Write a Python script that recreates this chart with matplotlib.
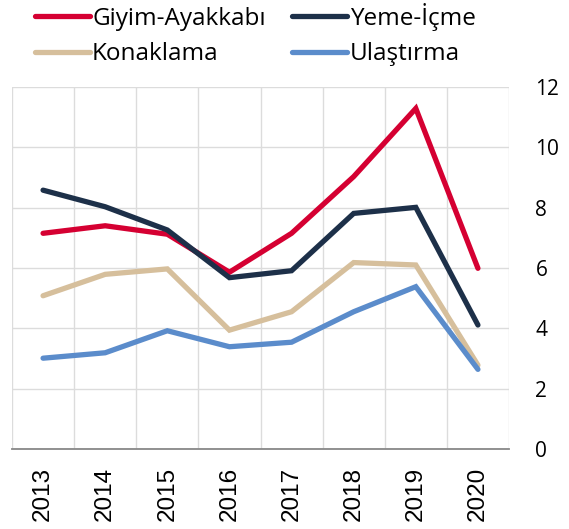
import matplotlib.pyplot as plt
import numpy as np

# values
years = ['2013', '2014', '2015', '2016', '2017', '2018', '2019', '2020']
giyim = [7.15, 7.40, 7.12, 5.86, 7.15, 9.03, 11.29, 5.99]
yeme = [8.58, 8.03, 7.26, 5.68, 5.91, 7.81, 8.01, 4.11]
konaklama = [5.08, 5.79, 5.97, 3.94, 4.55, 6.18, 6.10, 2.78]
ulastirma = [3.01, 3.19, 3.92, 3.39, 3.54, 4.55, 5.38, 2.64]

labels = ['Giyim-Ayakkabı', 'Yeme-İçme', 'Konaklama', 'Ulaştırma']
colors = ['#d50032', '#1d3049', '#d6bf9c', '#5b8ccb']

plt.rcParams['font.family'] = ['Open Sans', 'DejaVu Sans']

fig = plt.figure(figsize=(5.69, 5.29), dpi=100)
ax = fig.add_axes([12 / 569, 80 / 529, 497 / 569, 362 / 529])

x = np.arange(len(years))
series = [giyim, yeme, konaklama, ulastirma]
for vals, lab, col in zip(series, labels, colors):
    ax.plot(x, vals, color=col, lw=3.8, label=lab, solid_capstyle='round',
            solid_joinstyle='miter')

ax.set_xlim(-0.5, len(years) - 0.5)
ax.set_ylim(0, 12)
ax.set_yticks(range(0, 13, 2))
ax.yaxis.tick_right()
ax.tick_params(axis='y', length=0, pad=19, labelsize=15)

ax.set_xticks(x)
ax.set_xticklabels(years, rotation=90, family='Liberation Sans', fontsize=17.5)
ax.set_xticks(np.arange(-0.5, len(years), 1), minor=True)
ax.tick_params(axis='x', which='both', length=0, pad=13)

ax.grid(True, axis='y', color='#dcdcdc', lw=1)
ax.grid(True, axis='x', which='minor', color='#dcdcdc', lw=1)
ax.grid(False, axis='x', which='major')
ax.set_axisbelow(True)

for s in ['top', 'left', 'right']:
    ax.spines[s].set_visible(False)
ax.spines['bottom'].set_color('#888888')
ax.spines['bottom'].set_linewidth(1.3)

# order rows: Giyim / Yeme on top, Konaklama / Ulaştırma below
h, l = ax.get_legend_handles_labels()
order = [0, 2, 1, 3]
fig.legend([h[i] for i in order], [l[i] for i in order], ncol=2,
           loc='upper left', bbox_to_anchor=(35 / 569, 1 - 3 / 529),
           frameon=False, fontsize=17.5, handlelength=2.25, handletextpad=0.1,
           columnspacing=1.1, labelspacing=0.47, borderpad=0, borderaxespad=0)

fig.savefig('out.png', dpi=100)
